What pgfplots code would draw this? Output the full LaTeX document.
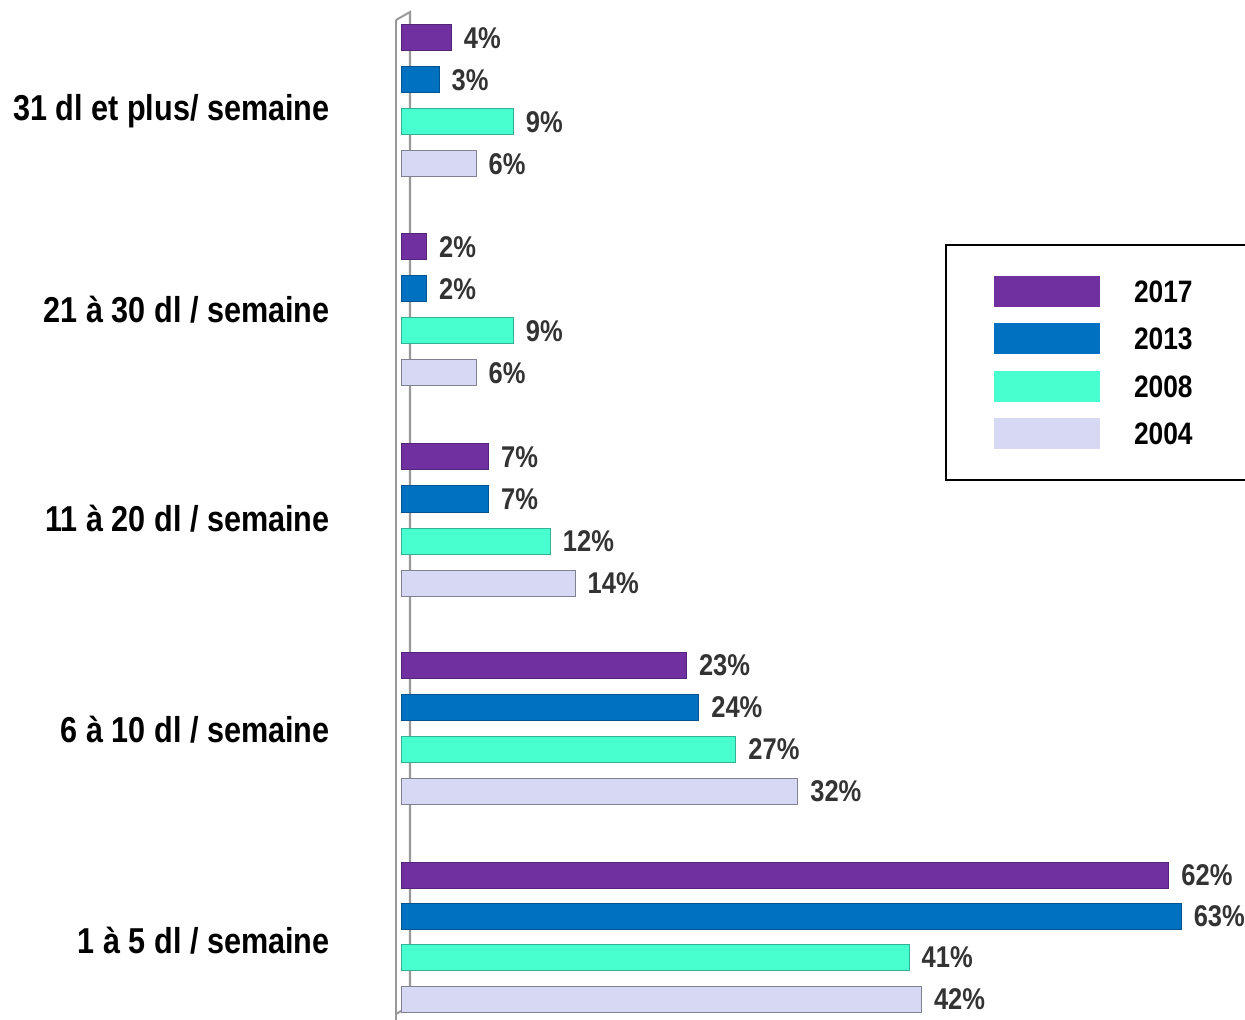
\documentclass[border=0pt]{standalone}
\usepackage{pgfplots}
\pgfplotsset{compat=1.18}
\usepackage{fontspec}
\setmainfont{Liberation Sans}[FakeStretch=0.85]
\definecolor{c2017}{HTML}{7030A0}
\definecolor{c2013}{HTML}{0070C0}
\definecolor{c2008}{HTML}{48FFD0}
\definecolor{c2004}{HTML}{D6D8F4}
\definecolor{lbl}{HTML}{333333}
\begin{document}
\begin{tikzpicture}
\path[use as bounding box] (-201pt,0pt) rectangle (421.5pt,510pt);
\begin{axis}[
  at={(0pt,0pt)}, anchor=south west,
  scale only axis, width=421.5pt, height=510pt,
  xmin=0, xmax=68.15, ymin=0, ymax=1020, y dir=reverse,
  enlargelimits=false, clip=false,
  axis line style={draw=none}, tick style={draw=none}, major tick length=0pt,
  xtick=\empty,
  ytick={121,323,531,742,953},
  yticklabels={{\mbox{31 dl et plus/ semaine}},{\mbox{21 à 30 dl / semaine}},{\mbox{11 à 20 dl / semaine}},{\mbox{6 à 10 dl / semaine}},{\mbox{1 à 5 dl / semaine}}},
  yticklabel style={anchor=base east, inner sep=0pt, xshift=-36pt, font=\bfseries\fontsize{18}{21}\selectfont, text=black},
  xbar, bar shift=0pt, bar width=26,
  point meta=x,
  nodes near coords={\pgfmathprintnumber{\pgfplotspointmeta}\%},
  nodes near coords style={anchor=west, inner xsep=0pt, xshift=6pt, font=\bfseries\fontsize{15}{18}\selectfont, text=lbl},
  /pgf/number format/assume math mode=true,
  legend cell align=left,
  legend image code/.code={\fill[#1,draw=none] (0pt,-7.75pt) rectangle (53pt,7.75pt);},
  legend style={at={(axis cs:43.9,244)}, anchor=north west, draw=black, line width=1pt,
    inner xsep=24pt, inner ysep=15.5pt, row sep=8.2pt,
    font=\bfseries\fontsize{15.5}{18}\selectfont,
    nodes={inner sep=0pt, text width=60pt, text height=11pt, text depth=0pt},
    /tikz/every odd column/.append style={column sep=17pt}},
]
\draw[gray!80, line width=1pt] (axis cs:-0.485,20) -- (axis cs:-0.485,1020);
\draw[gray!80, line width=1pt] (axis cs:-0.485,20) -- (axis cs:0.647,12) -- (axis cs:0.647,1006) -- (axis cs:-0.485,1014);
\addplot[fill=c2017, draw=c2017!75!black, line width=0.5pt] coordinates {(4,38) (2,247) (7,457) (23,665) (62,875)};
\addplot[fill=c2013, draw=c2013!75!black, line width=0.5pt] coordinates {(3,80) (2,289) (7,499) (24,707) (63,916)};
\addplot[fill=c2008, draw=c2008!70!black, line width=0.5pt] coordinates {(9,122) (9,331) (12,541) (27,749) (41,957)};
\addplot[fill=c2004, draw=c2004!60!black, line width=0.5pt] coordinates {(6,164) (6,373) (14,583) (32,791) (42,999)};
\legend{2017,2013,2008,2004}
\end{axis}
\end{tikzpicture}
\end{document}
